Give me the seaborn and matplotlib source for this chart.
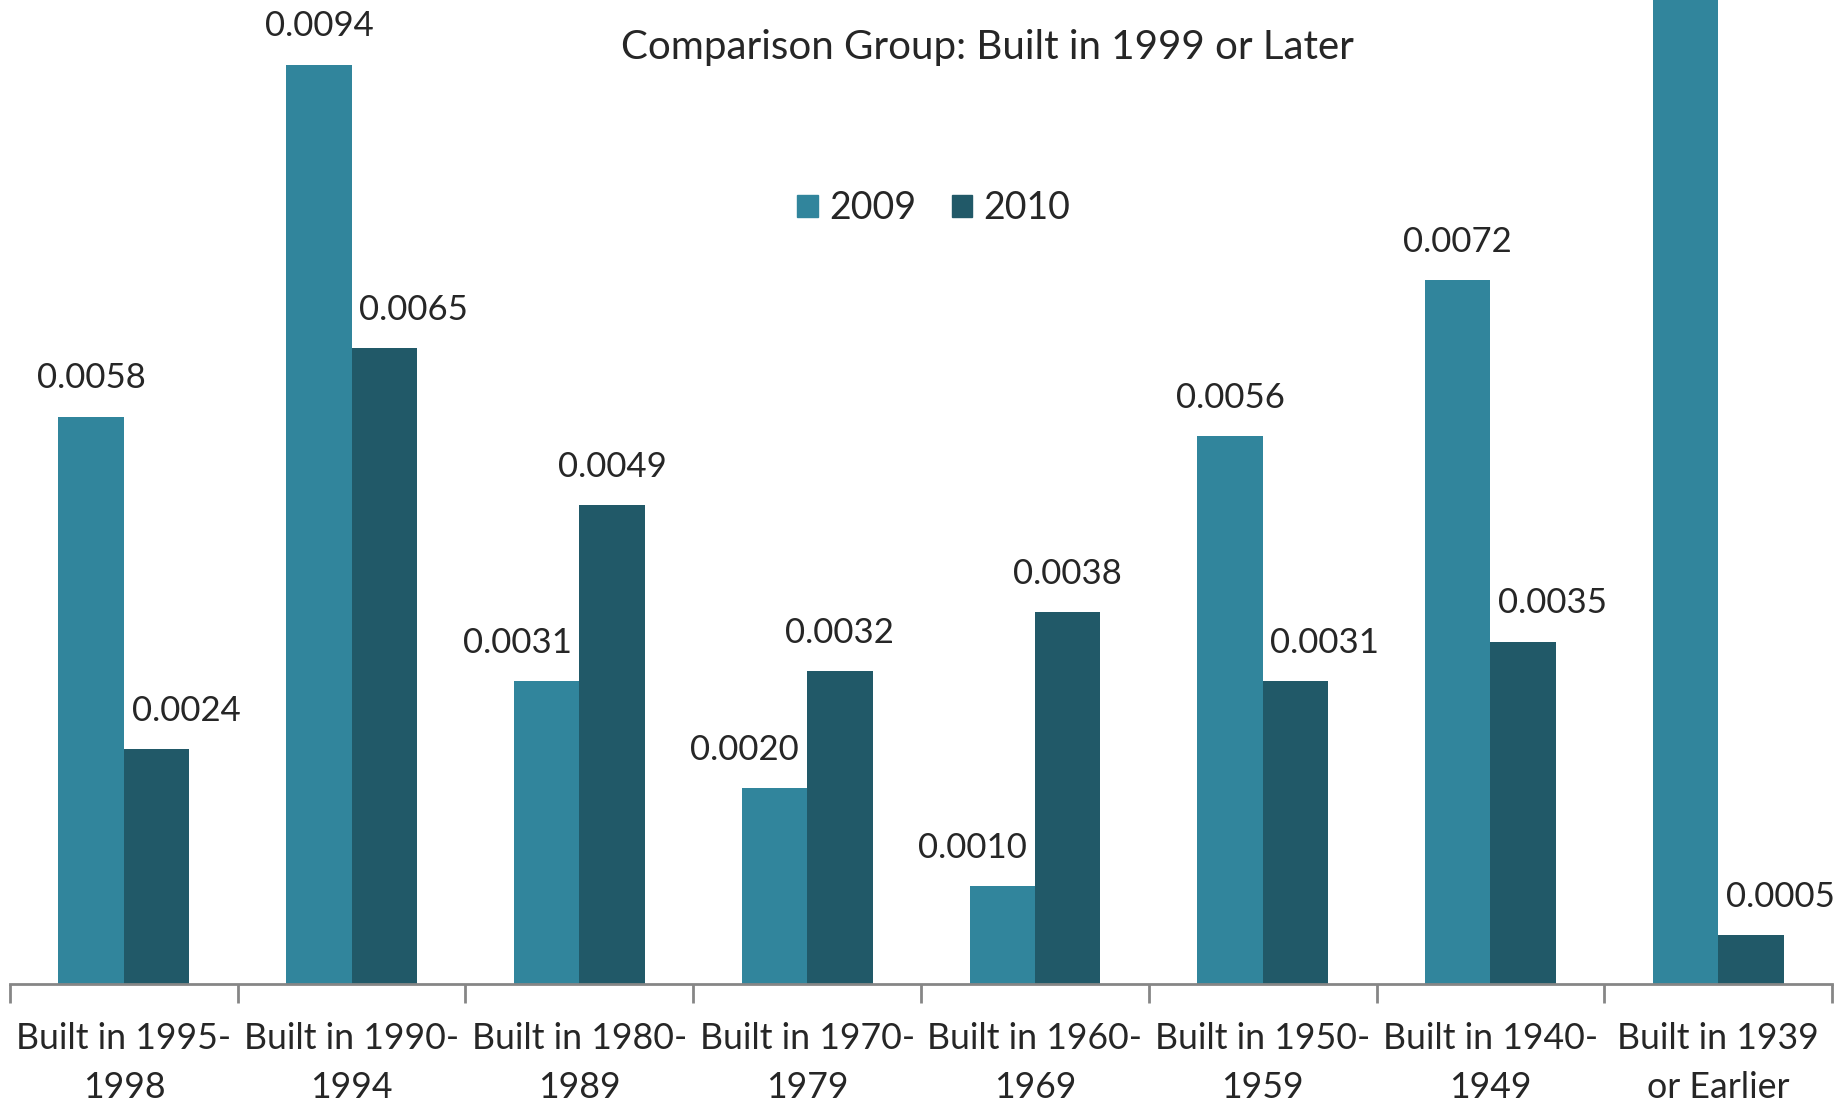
import pandas as pd
import matplotlib
matplotlib.use('Agg')
import matplotlib.pyplot as plt
import seaborn as sns

categories = ['Built in 1995-\n1998', 'Built in 1990-\n1994', 'Built in 1980-\n1989',
              'Built in 1970-\n1979', 'Built in 1960-\n1969', 'Built in 1950-\n1959',
              'Built in 1940-\n1949', 'Built in 1939\nor Earlier']
vals_2009 = [0.0058, 0.0094, 0.0031, 0.0020, 0.0010, 0.0056, 0.0072, 0.0125]
vals_2010 = [0.0024, 0.0065, 0.0049, 0.0032, 0.0038, 0.0031, 0.0035, 0.0005]
years = ['2009', '2010']
colors = ['#31859C', '#215968']

df = pd.DataFrame({
    'Kategori': categories * 2,
    'Yil': [years[0]] * len(categories) + [years[1]] * len(categories),
    'Deger': vals_2009 + vals_2010,
})

sns.set_style("white")
plt.rcParams['font.family'] = ['Lato', 'DejaVu Sans']

fig = plt.figure(figsize=(18.45, 11.02), dpi=100)
ax = fig.add_axes([0.0054, 0.107, 0.9876, 0.893])

sns.barplot(data=df, x='Kategori', y='Deger', hue='Yil', palette=colors,
            width=0.574, gap=0, saturation=1, linewidth=0, ax=ax, legend=False)

ymax = 0.01006
ax.set_ylim(0, ymax)
ax.set_xlim(-0.5, len(categories) - 0.5)

# Veri etiketleri: komşu çubuk daha uzunsa etiket yana kayıyor (Excel gibi)
kayma = 0.13
for k, cont in enumerate(ax.containers):
    for i, b in enumerate(cont):
        h = b.get_height()
        if h >= ymax * 0.95:
            continue
        x = b.get_x() + b.get_width() / 2
        diger = vals_2010[i] if k == 0 else vals_2009[i]
        if diger > h:
            x += -kayma if k == 0 else kayma
        ax.annotate(f'{h:.4f}', (x, h), xytext=(0, 16), textcoords='offset points',
                    ha='center', va='bottom', fontsize=25)

# Eksen ayarları
for s in ['top', 'right', 'left']:
    ax.spines[s].set_visible(False)
ax.spines['bottom'].set_color('#868686')
ax.spines['bottom'].set_linewidth(2)
ax.set_yticks([])
ax.set_xlabel('')
ax.set_ylabel('')
ax.set_xticks(range(len(categories)))
ax.set_xticklabels(categories, fontsize=25.7, linespacing=1.62)
ax.tick_params(axis='x', which='major', length=0, pad=27)
ax.set_xticks([i - 0.5 for i in range(len(categories) + 1)], minor=True)
ax.tick_params(axis='x', which='minor', bottom=True, length=14, width=2, color='#868686')

fig.text(0.535, 0.957, 'Comparison Group: Built in 1999 or Later', ha='center', va='center', fontsize=29)

handles = [plt.Rectangle((0, 0), 1, 1, color=c) for c in colors]
fig.legend(handles, years, loc='center', bbox_to_anchor=(0.506, 0.811), ncol=2, frameon=False,
           fontsize=27, handlelength=0.55, handleheight=0.55, handletextpad=0.3, columnspacing=0.95)

plt.savefig('out.png', dpi=100)
